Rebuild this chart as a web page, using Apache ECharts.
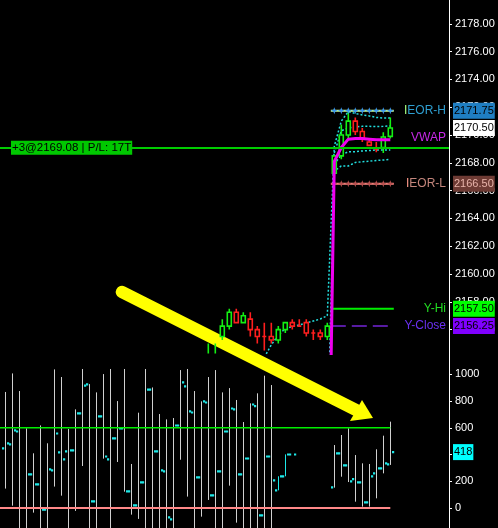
<!DOCTYPE html>
<html><head><meta charset="utf-8">
<style>html,body{margin:0;padding:0;background:#000;}#c{width:498px;height:528px;}</style>
<script src="https://cdn.jsdelivr.net/npm/echarts@6/dist/echarts.min.js"></script>
</head><body><div id="c"></div>
<script>
// ---------- data ----------
const candleIdx   = [29,30,31,32,33,34,35,36,37,38,39,40,41,42,43,44,45,46,47,48,49,50,51,52,53,54,55];
const candleOpen  = [2153.5,2153.0,2155.5,2156.25,2157.25,2156.5,2156.75,2156.0,2155.5,2155.5,2155.25,2156.0,2156.5,2156.25,2156.5,2155.75,2155.75,2155.5,2167.25,2168.5,2170.0,2171.0,2170.25,2169.5,2169.0,2169.1,2169.9];
const candleClose = [2154.0,2154.0,2156.25,2157.25,2156.5,2157.0,2156.0,2155.5,2155.5,2155.25,2156.0,2156.5,2156.25,2156.25,2155.75,2155.75,2155.5,2156.25,2168.5,2170.0,2171.0,2170.25,2169.75,2169.25,2169.0,2169.85,2170.5];
const candleLow   = [2153.0,2152.5,2155.25,2156.0,2156.5,2156.5,2155.5,2155.0,2154.5,2155.0,2155.0,2155.75,2156.0,2156.25,2155.5,2155.25,2155.25,2155.25,2167.25,2168.25,2169.75,2170.0,2169.5,2169.25,2168.75,2168.7,2169.75];
const candleHigh  = [2155.0,2155.0,2156.75,2157.5,2157.5,2157.25,2157.25,2156.25,2156.5,2156.5,2156.25,2156.5,2156.75,2156.75,2156.75,2156.0,2156.0,2156.5,2168.5,2170.75,2171.75,2171.25,2170.5,2169.75,2169.5,2170.2,2171.25];

const vwap   = [[46.55,2154.0],[47,2168.1],[48,2169.1],[49,2169.7],[50,2169.75],[51,2169.75],[52,2169.7],[53,2169.65],[54,2169.65],[55,2169.65]];
const bandU2 = [[37,2154.0],[38,2154.9],[39,2155.6],[40,2156.08],[41,2156.22],[42,2156.33],[43,2156.47],[44,2156.62],[45,2156.76],[46,2157.0],[47,2169.2],[48,2171.0],[49,2171.68],[50,2171.55],[51,2171.44],[52,2171.37],[53,2171.26],[54,2171.22],[55,2171.22]];
const bandU1 = [[47,2168.7],[48,2170.3],[49,2170.5],[50,2170.58],[51,2170.62],[52,2170.62],[53,2170.6],[54,2170.62],[55,2170.65]];
const bandL1 = [[47,2167.9],[48,2168.56],[49,2168.8],[50,2168.8],[51,2168.85],[52,2168.88],[53,2168.92],[54,2168.92],[55,2168.92]];
const bandL2 = [[46.3,2153.5],[47,2167.4],[48,2167.77],[49,2167.77],[50,2168.02],[51,2168.08],[52,2168.11],[53,2168.17],[54,2168.2],[55,2168.25]];

const ieorH = 2171.75, ieorL = 2166.5, yHi = 2157.5, yClose = 2156.25;
const levelRange = [46.5,47,48,49,50,51,52,53,54,55,55.5];
const posQty = 3, posPrice = 2169.08, posPL = 17;

const lowerIdx   = [0,1,2,3,4,5,6,7,8,9,10,11,12,13,14,15,16,17,18,19,20,21,22,23,24,25,26,27,28,29,30,31,32,33,34,35,36,37,38,39,40,41,42,43,44,45,46,47,48,49,50,51,52,53,54,55];
const lowerOpen  = [446,476,573,-200,252,177,-12,282,416,424,431,708,925,50,686,364,521,596,125,20,192,887,424,274,-85,618,910,715,229,790,95,274,573,738,252,371,763,-55,386,132,237,401,null,null,null,null,null,155,409,319,217,192,42,259,297,327];
const lowerHigh  = [868,1007,875,596,409,618,484,1037,980,591,738,1040,927,865,1002,1040,800,1040,329,713,1040,902,703,663,673,1032,1040,875,798,980,1032,865,897,808,643,783,858,990,920,null,null,null,null,null,null,null,null,471,546,596,396,334,329,439,541,646];
const lowerLow   = [145,17,-200,-200,-35,-200,-200,160,92,-200,-22,314,-200,-200,369,-200,344,122,-50,-82,-200,-200,-200,-200,-200,361,85,-200,-65,60,-200,-200,167,-110,-200,-200,-200,-200,-200,null,null,null,null,null,null,null,null,152,234,194,47,10,10,72,259,322];
const lowerClose = [484,581,-200,252,177,-12,289,558,364,431,708,917,50,686,386,521,596,125,20,192,887,424,282,-70,618,940,723,229,798,95,274,573,745,252,371,775,-55,386,207,237,401,401,null,null,null,null,null,409,319,199,192,42,237,297,334,418];
const lowerLevelHi = 600, lowerLevelLo = 0;

const priceTicks = [2156,2158,2160,2162,2164,2166,2168,2170,2172,2174,2176,2178];
const lowerTicks = [0,200,400,600,800,1000];

// ---------- view ----------
const FONT = 'Liberation Sans';
const GREEN = '#14f014', RED = '#ff1e1e';
const X_MIN = -0.757, X_MAX = 63.386;
const CLEAR = 'rgba(0,0,0,0)';
const lastClose = candleClose[candleClose.length - 1];
const lastLower = lowerClose[lowerClose.length - 1];
const lastVwap = vwap[vwap.length - 1][1];

const candleData = candleIdx.map((x, j) => [x, candleOpen[j], candleClose[j], candleLow[j], candleHigh[j]]);
const lowerData = [];
lowerIdx.forEach((x, j) => { if (lowerOpen[j] !== null) lowerData.push([x, lowerOpen[j], lowerClose[j], lowerHigh[j] === null ? NaN : lowerHigh[j], lowerLow[j] === null ? NaN : lowerLow[j]]); });

function renderCandle(params, api) {
  const x = api.value(0), o = api.value(1), c = api.value(2), l = api.value(3), h = api.value(4);
  const pH = api.coord([x, h]), pL = api.coord([x, l]), pO = api.coord([x, o]), pC = api.coord([x, c]);
  const w = 4.0;
  const color = c > o ? GREEN : RED;
  const top = Math.min(pO[1], pC[1]), bot = Math.max(pO[1], pC[1]);
  const cx = pO[0];
  return { type: 'group', children: [
    { type: 'line', shape: { x1: cx, y1: pH[1], x2: cx, y2: pL[1] }, style: { stroke: color, lineWidth: 1.6 } },
    { type: 'rect', shape: { x: cx - w / 2, y: top, width: w, height: bot - top }, style: { fill: '#000', stroke: color, lineWidth: 1.6 } }
  ]};
}
function renderBar(params, api) {
  const x = api.value(0), o = api.value(1), c = api.value(2), h = api.value(3), l = api.value(4);
  const pO = api.coord([x, o]), pC = api.coord([x, c]);
  const cx = Math.round(pO[0]) + 0.5;
  const ch = [];
  if (!isNaN(h) && !isNaN(l)) {
    const pH = api.coord([x, h]), pL = api.coord([x, l]);
    ch.push({ type: 'line', shape: { x1: cx, y1: pH[1], x2: cx, y2: pL[1] }, style: { stroke: '#d0d0d0', lineWidth: 1 } });
  } else {
    ch.push({ type: 'line', shape: { x1: cx, y1: pO[1], x2: cx, y2: pC[1] }, style: { stroke: '#1ee8e8', lineWidth: 1 } });
  }
  ch.push({ type: 'rect', shape: { x: cx - 3.5, y: pO[1] - 1, width: 2.2, height: 2.2 }, style: { fill: '#1ee8e8' } });
  ch.push({ type: 'rect', shape: { x: cx + 1.5, y: pC[1] - 1, width: 2.2, height: 2.2 }, style: { fill: '#1ee8e8' } });
  return { type: 'group', children: ch };
}

const star = 'path://M5,0 L6.3,3.7 L10,5 L6.3,6.3 L5,10 L3.7,6.3 L0,5 L3.7,3.7 Z';
function levelSeries(v, lineColor, markColor, width, type, withMarks) {
  return {
    type: 'line', xAxisIndex: 0, yAxisIndex: 0, z: 3, silent: true,
    data: levelRange.map(x => [x, v]),
    showSymbol: !!withMarks, showAllSymbol: true,
    symbol: withMarks ? (val => Number.isInteger(val[0]) ? star : 'none') : 'none',
    symbolSize: 7, itemStyle: { color: markColor },
    lineStyle: { color: lineColor, width: width, type: type }
  };
}
function boxLabel(v, text, bg, fg) {
  return { yAxis: v, lineStyle: { color: CLEAR, width: 1, opacity: 1 },
    label: { show: true, position: 'end', distance: [4, 0], formatter: text, backgroundColor: bg, color: fg, opacity: 1,
      padding: [3, 1, 2, 1], fontSize: 11, lineHeight: 11, fontFamily: FONT } };
}
function nameLabel(v, fmt, rich) {
  return { yAxis: v, lineStyle: { color: CLEAR, width: 1, opacity: 1 },
    label: { show: true, position: 'insideEndTop', distance: [3, 0], verticalAlign: 'middle', align: 'right', opacity: 1,
      formatter: fmt, rich: rich, fontSize: 12, fontFamily: FONT } };
}
const band = (d) => ({ type: 'line', xAxisIndex: 0, yAxisIndex: 0, z: 2, silent: true, data: d, showSymbol: false,
  lineStyle: { color: '#22dede', width: 1.5, type: [2, 2] } });

const option = {
  backgroundColor: '#000',
  animation: false,
  grid: [
    { left: 0, right: 49, top: 0, height: 353.5 },
    { left: 0, right: 49, top: 353.5, height: 174.5 }
  ],
  xAxis: [
    { type: 'value', gridIndex: 0, min: X_MIN, max: X_MAX, show: false },
    { type: 'value', gridIndex: 1, min: X_MIN, max: X_MAX, show: false }
  ],
  yAxis: [
    { type: 'value', gridIndex: 0, position: 'right', min: 2154.28, max: 2179.71, splitLine: { show: false },
      axisLine: { show: true, onZero: false, lineStyle: { color: '#fff', width: 1 } },
      axisTick: { show: true, length: 3, lineStyle: { color: '#fff' }, customValues: priceTicks },
      axisLabel: { color: '#fff', fontSize: 11, fontFamily: FONT, margin: 6, customValues: priceTicks, formatter: v => v.toFixed(2) } },
    { type: 'value', gridIndex: 1, position: 'right', min: -150, max: 1156, splitLine: { show: false },
      axisLine: { show: true, onZero: false, lineStyle: { color: '#fff', width: 1 } },
      axisTick: { show: true, length: 3, lineStyle: { color: '#fff' }, customValues: lowerTicks },
      axisLabel: { color: '#fff', fontSize: 11, fontFamily: FONT, margin: 6, customValues: lowerTicks, formatter: v => String(v) } }
  ],
  series: [
    band(bandU2), band(bandU1), band(bandL1), band(bandL2),
    { type: 'custom', xAxisIndex: 0, yAxisIndex: 0, z: 3, clip: true, silent: true, renderItem: renderCandle,
      data: candleData, encode: { x: 0, y: [1, 2, 3, 4] } },
    levelSeries(ieorH, '#c8ff96', '#3a96f0', 2, 'solid', true),
    levelSeries(ieorL, '#ff8c84', '#b85050', 2, 'solid', true),
    levelSeries(yHi, '#00ee00', '#00ee00', 2, 'solid', false),
    levelSeries(yClose, '#7424d8', '#7424d8', 1.5, [15, 6], false),
    { type: 'line', xAxisIndex: 0, yAxisIndex: 0, z: 4, silent: true, data: vwap, showSymbol: false,
      lineStyle: { color: '#f000f0', width: 3 },
      markLine: { silent: true, symbol: ['none', 'none'], animation: false, data: [
        { yAxis: posPrice, lineStyle: { color: '#00cc00', width: 2, type: 'solid', opacity: 1 },
          label: { show: true, position: 'insideStartTop', distance: [11, 0], verticalAlign: 'middle', align: 'left',
            formatter: '+' + posQty + '@' + posPrice.toFixed(2) + ' | P/L: ' + posPL + 'T',
            backgroundColor: '#00c800', color: '#000', padding: [1, 1, 0, 1], fontSize: 11.5, lineHeight: 13, fontFamily: FONT } },
        nameLabel(ieorH, '{a|I}{b|EOR-H}', { a: { color: '#a8ff80', fontSize: 12, fontFamily: FONT }, b: { color: '#2e9ed0', fontSize: 12, fontFamily: FONT } }),
        nameLabel(lastVwap + 0.15, '{a|VWAP}', { a: { color: '#c828e8', fontSize: 12, fontFamily: FONT } }),
        nameLabel(ieorL, '{a|I}{b|EOR-L}', { a: { color: '#ff9a8a', fontSize: 12, fontFamily: FONT }, b: { color: '#c4867c', fontSize: 12, fontFamily: FONT } }),
        nameLabel(yHi, '{a|Y-Hi}', { a: { color: '#22dd22', fontSize: 12, fontFamily: FONT } }),
        nameLabel(yClose, '{a|Y-Close}', { a: { color: '#6a30f0', fontSize: 12, fontFamily: FONT } }),
        boxLabel(ieorH, ieorH.toFixed(2), '#1f7ec2', '#000'),
        boxLabel(lastClose, lastClose.toFixed(2), '#ffffff', '#000'),
        boxLabel(ieorL, ieorL.toFixed(2), '#6e3b34', '#e8b4aa'),
        boxLabel(yHi, yHi.toFixed(2), '#00ff00', '#000'),
        boxLabel(yClose, yClose.toFixed(2), '#8000ff', '#000')
      ] } },
    { type: 'custom', xAxisIndex: 1, yAxisIndex: 1, z: 3, clip: true, silent: true, renderItem: renderBar,
      data: lowerData, encode: { x: 0, y: [1, 2, 3, 4] } },
    { type: 'line', xAxisIndex: 1, yAxisIndex: 1, z: 4, silent: true, showSymbol: false,
      data: [[X_MIN, lowerLevelHi], [55, lowerLevelHi]], lineStyle: { color: '#00ee00', width: 1.5 },
      markLine: { silent: true, symbol: ['none', 'none'], animation: false, data: [
        { yAxis: lastLower, lineStyle: { color: CLEAR, width: 1, opacity: 1 },
          label: { show: true, position: 'end', distance: [4, 0], formatter: String(lastLower), backgroundColor: '#00ffff', color: '#000', opacity: 1,
            padding: [3, 1, 2, 1], fontSize: 11, lineHeight: 11, fontFamily: FONT } }
      ] } },
    { type: 'line', xAxisIndex: 1, yAxisIndex: 1, z: 4, silent: true, showSymbol: false,
      data: [[X_MIN, lowerLevelLo], [55, lowerLevelLo]], lineStyle: { color: '#ff8888', width: 2 } }
  ],
  graphic: [{
    type: 'group', z: 100, silent: true, children: [
      { type: 'line', shape: { x1: 122, y1: 292, x2: 356, y2: 410 }, style: { stroke: '#ffff00', lineWidth: 12.5, lineCap: 'round' } },
      { type: 'polygon', shape: { points: [[362, 400], [373, 418], [350, 421]] }, style: { fill: '#ffff00' } }
    ]
  }]
};
const chart = echarts.init(document.getElementById('c'), null, { renderer: 'canvas' });
chart.setOption(option);
</script>
</body></html>
